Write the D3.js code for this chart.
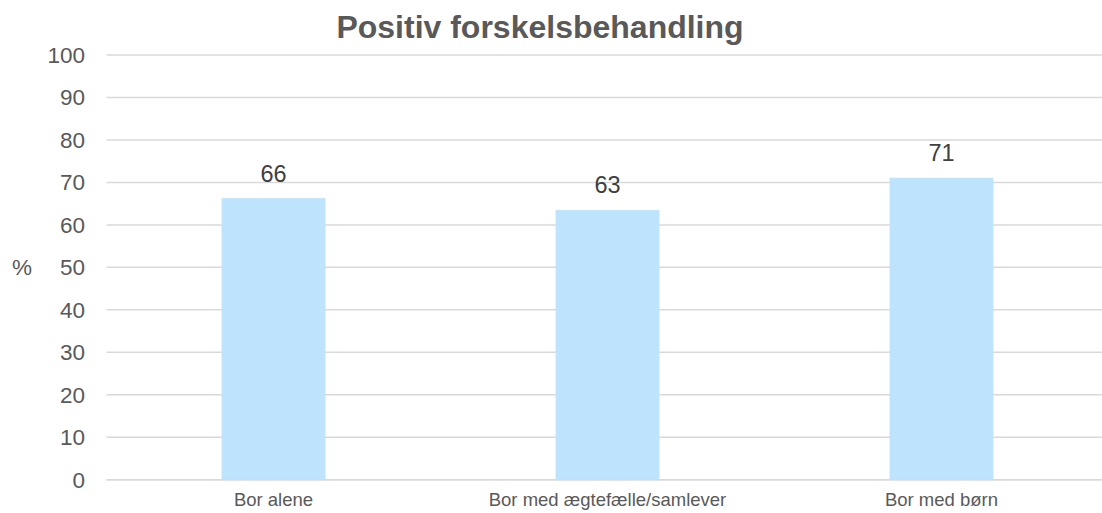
<!DOCTYPE html>
<html>
<head>
<meta charset="utf-8">
<script src="https://cdn.jsdelivr.net/npm/d3@7"></script>
<style>
  html, body { margin: 0; padding: 0; background: #fff; }
  svg { display: block; font-family: "Liberation Sans", Arial, sans-serif; }
</style>
</head>
<body>
<svg id="chart" width="1102" height="513"></svg>
<script>
const title = "Positiv forskelsbehandling";
const categories = ["Bor alene", "Bor med ægtefælle/samlever", "Bor med børn"];
const values = [66.3, 63.5, 71.1];
const labels = ["66", "63", "71"];
const yTicks = [0, 10, 20, 30, 40, 50, 60, 70, 80, 90, 100];
const yAxisTitle = "%";

const svg = d3.select("#chart");
const plotLeft = 106.5, plotRight = 1108.5, plotTop = 55, plotBottom = 479.7;

const x = d3.scaleBand().domain(categories).range([plotLeft, plotRight])
  .paddingInner(0.689).paddingOuter(0.689 / 2);
const y = d3.scaleLinear().domain([0, 100]).range([plotBottom, plotTop]);

// gridlines
svg.append("g").selectAll("line").data(yTicks).join("line")
  .attr("x1", plotLeft).attr("x2", 1102)
  .attr("y1", d => y(d)).attr("y2", d => y(d))
  .attr("stroke", "#d9d9d9").attr("stroke-width", 1.5);

// y tick labels
svg.append("g").selectAll("text").data(yTicks).join("text")
  .attr("x", 85).attr("y", d => y(d)).attr("dy", "0.35em")
  .attr("text-anchor", "end").attr("font-size", 22.5).attr("fill", "#595959")
  .text(d => d);

// y axis title
svg.append("text").attr("x", 22).attr("y", y(50)).attr("dy", "0.35em")
  .attr("text-anchor", "middle").attr("font-size", 22.5).attr("fill", "#595959")
  .text(yAxisTitle);

// bars
svg.append("g").selectAll("rect").data(values).join("rect")
  .attr("x", (d, i) => x(categories[i])).attr("width", x.bandwidth())
  .attr("y", d => y(d)).attr("height", d => plotBottom - y(d))
  .attr("fill", "#bde3fd");

// axis line on top of bars
svg.append("line").attr("x1", plotLeft).attr("x2", 1102)
  .attr("y1", plotBottom).attr("y2", plotBottom)
  .attr("stroke", "#d9d9d9").attr("stroke-width", 1.5);

// data labels
svg.append("g").selectAll("text").data(values).join("text")
  .attr("x", (d, i) => x(categories[i]) + x.bandwidth() / 2)
  .attr("y", d => y(d) - 16.6)
  .attr("text-anchor", "middle").attr("font-size", 23.5).attr("fill", "#404040")
  .text((d, i) => labels[i]);

// category labels
svg.append("g").selectAll("text").data(categories).join("text")
  .attr("x", d => x(d) + x.bandwidth() / 2).attr("y", 506)
  .attr("text-anchor", "middle").attr("font-size", 18.5).attr("fill", "#595959")
  .text(d => d);

// title
svg.append("text").attr("x", 540).attr("y", 37.7)
  .attr("text-anchor", "middle").attr("font-size", 32).attr("font-weight", "bold")
  .attr("fill", "#595959").text(title);
</script>
</body>
</html>
